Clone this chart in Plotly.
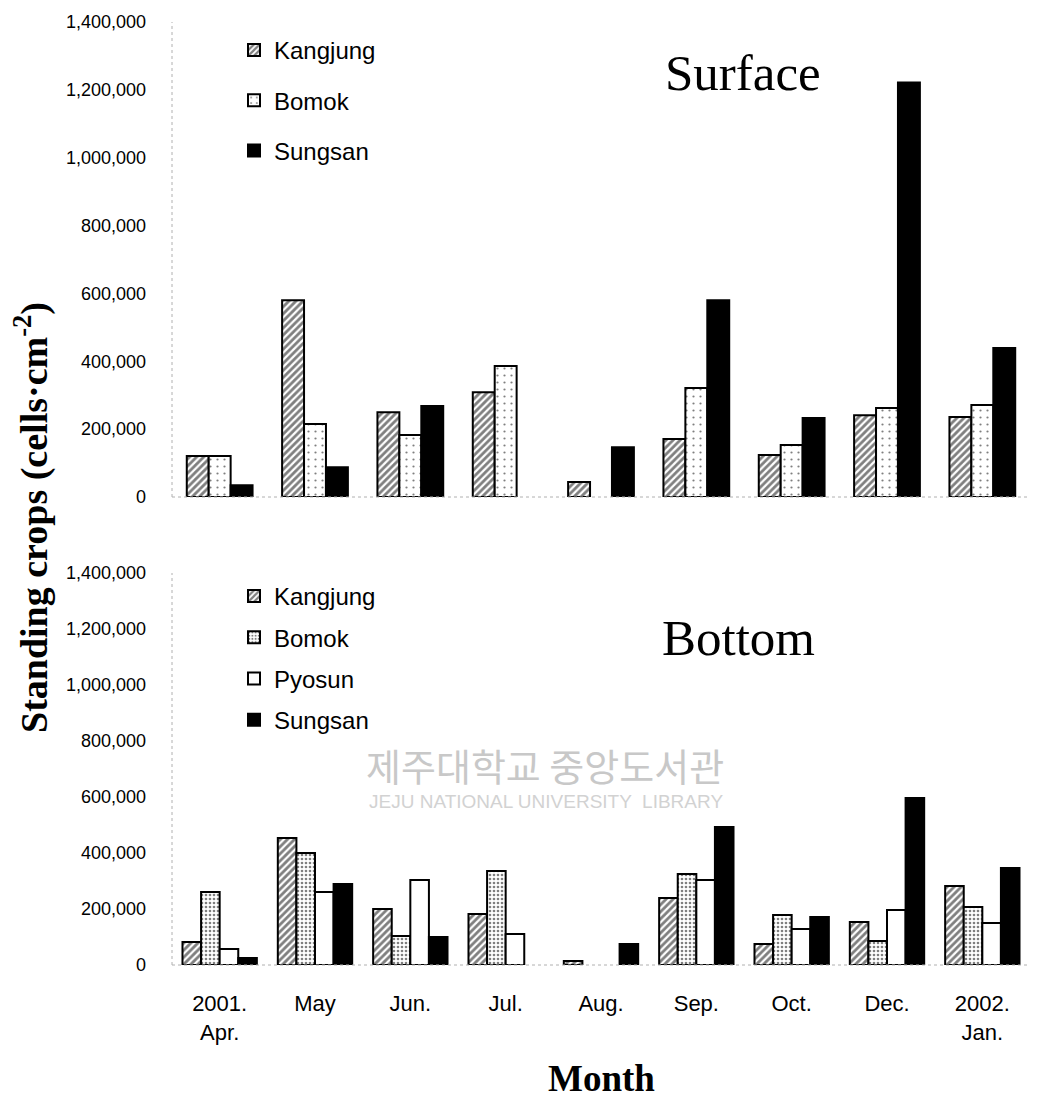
"""Standing crops at surface and bottom, grouped bars per month."""

import plotly.graph_objects as go
from plotly.subplots import make_subplots

months = ["2001.<br>Apr.", "May", "Jun.", "Jul.", "Aug.", "Sep.", "Oct.", "Dec.", "2002.<br>Jan."]

# surface
surf_kangjung = [121000, 580000, 250000, 309000, 44000, 171000, 124000, 241000, 236000]
surf_bomok = [121000, 215000, 183000, 386000, None, 321000, 153000, 262000, 271000]
surf_sungsan = [35000, 88000, 268000, None, 147000, 580000, 233000, 1222000, 439000]

# bottom
bot_kangjung = [82000, 454000, 200000, 182000, 14000, 239000, 75000, 154000, 282000]
bot_bomok = [261000, 400000, 104000, 336000, None, 325000, 179000, 86000, 207000]
bot_pyosun = [57000, 261000, 304000, 111000, None, 304000, 129000, 196000, 150000]
bot_sungsan = [25000, 289000, 100000, None, 75000, 493000, 171000, 596000, 346000]

y_ticks = [0, 200000, 400000, 600000, 800000, 1000000, 1200000, 1400000]

W, H = 1038, 1099
OFF = 8  # page body margin


def fx(px):
    return (px - OFF) / W


def fy(px):
    return 1 - (px - OFF) / H


SANS = "Liberation Sans, Arial"
SERIF = "Liberation Serif, Times New Roman"

styles = {
    "Kangjung": dict(color="white", pattern=dict(shape="/", fgcolor="black", bgcolor="white", size=5, solidity=0.55)),
    "Bomok_s": dict(color="white", pattern=dict(shape=".", fgcolor="black", bgcolor="white", size=7, solidity=0.08)),
    "Bomok_b": dict(color="white", pattern=dict(shape=".", fgcolor="black", bgcolor="white", size=4, solidity=0.35)),
    "Pyosun": dict(color="white"),
    "Sungsan": dict(color="black"),
}

fig = make_subplots(rows=2, cols=1)

top = [("Kangjung", surf_kangjung, "Kangjung"), ("Bomok", surf_bomok, "Bomok_s"), ("Sungsan", surf_sungsan, "Sungsan")]
bot = [("Kangjung", bot_kangjung, "Kangjung"), ("Bomok", bot_bomok, "Bomok_b"),
       ("Pyosun", bot_pyosun, "Pyosun"), ("Sungsan", bot_sungsan, "Sungsan")]

for row, series, bw, leg in [(1, top, 0.23, "legend"), (2, bot, 0.195, "legend2")]:
    n = len(series)
    for i, (name, vals, key) in enumerate(series):
        fig.add_trace(
            go.Bar(
                x=months, y=vals, name=name,
                width=bw, offset=-n * bw / 2 + i * bw,
                marker=dict(line=dict(color="black", width=2), **styles[key]),
                legend=leg, legendgroup=f"{row}{name}",
            ),
            row=row, col=1,
        )

fig.update_layout(
    width=W, height=H,
    margin=dict(l=0, r=0, t=0, b=0, autoexpand=False),
    plot_bgcolor="white", paper_bgcolor="white",
    barmode="overlay",
    xaxis=dict(domain=[fx(172), fx(1030)], showticklabels=False, showgrid=False, showline=False,
               ticks="", automargin=False),
    xaxis2=dict(domain=[fx(172), fx(1030)], showgrid=False, showline=False, ticks="", automargin=False,
                ticklabelstandoff=23, tickfont=dict(family=SANS, size=22, color="black")),
    yaxis=dict(domain=[fy(497), fy(22)], range=[0, 1400000]),
    yaxis2=dict(domain=[fy(965), fy(573)], range=[0, 1400000]),
    legend=dict(x=fx(234), y=fy(28), xanchor="left", yanchor="top", tracegroupgap=16,
                font=dict(family=SANS, size=24, color="black"), bgcolor="rgba(0,0,0,0)"),
    legend2=dict(x=fx(234), y=fy(574), xanchor="left", yanchor="top", tracegroupgap=7,
                 font=dict(family=SANS, size=24, color="black"), bgcolor="rgba(0,0,0,0)"),
)
for ax in ("yaxis", "yaxis2"):
    fig.layout[ax].update(
        tickvals=y_ticks, tickformat=",d", showgrid=False, zeroline=False, showline=False,
        ticks="", automargin=False, ticklabelstandoff=25,
        tickfont=dict(family=SANS, size=18, color="black"),
    )

# faint dotted axis lines
for xr, yr in [("x", "y"), ("x2", "y2")]:
    fig.add_shape(type="line", xref=f"{xr} domain", yref=f"{yr} domain", x0=0, x1=0, y0=0, y1=1,
                  line=dict(color="#b0b0b0", width=1, dash="dot"))
    fig.add_shape(type="line", xref=f"{xr} domain", yref=f"{yr} domain", x0=0, x1=1, y0=0, y1=0,
                  line=dict(color="#b0b0b0", width=1, dash="dot"))


def label(text, x, y, size, family=SERIF, color="black", angle=0):
    fig.add_annotation(text=text, x=fx(x), y=fy(y), xref="paper", yref="paper",
                       xanchor="center", yanchor="middle", textangle=angle, showarrow=False,
                       font=dict(family=family, size=size, color=color))


label("Surface", 743, 73, 51)
label("Bottom", 738, 638, 51)
label("<b>Month</b>", 601, 1078, 37)
label("<b>Standing crops (cells·cm<sup>-2</sup>)</b>", 31, 518, 38, angle=-90)

# library watermark
label("제주대학교 중앙도서관", 545, 764, 38, family="Noto Sans CJK KR", color="#c8c8c8")
label("JEJU NATIONAL UNIVERSITY  LIBRARY", 546, 801, 19, family=SANS, color="#d2d2d2")

fig.write_html("out.html")
